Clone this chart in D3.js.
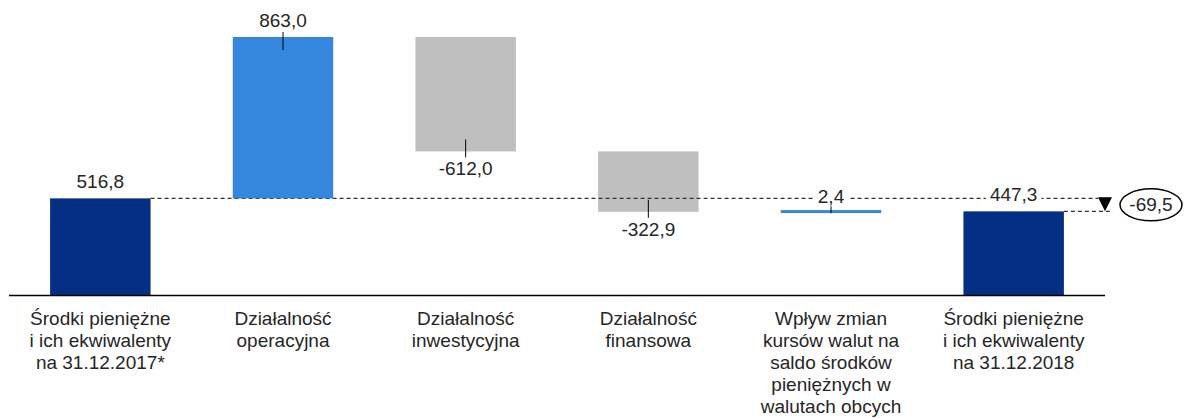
<!DOCTYPE html>
<html>
<head>
<meta charset="utf-8">
<script src="https://cdn.jsdelivr.net/npm/d3@7/dist/d3.min.js"></script>
<style>
  body { margin: 0; background: #fff; }
  text { font-family: "Liberation Sans", Arial, sans-serif; fill: #262626; }
</style>
</head>
<body>
<svg id="chart" width="1185" height="418"></svg>
<script>
// category labels, one entry per line
const categories = [
  ["Środki pieniężne", "i ich ekwiwalenty", "na 31.12.2017*"],
  ["Działalność", "operacyjna"],
  ["Działalność", "inwestycyjna"],
  ["Działalność", "finansowa"],
  ["Wpływ zmian", "kursów walut na", "saldo środków", "pieniężnych w", "walutach obcych"],
  ["Środki pieniężne", "i ich ekwiwalenty", "na 31.12.2018"]
]
const values = [516.8, 863.0, -612.0, -322.9, 2.4, 447.3]
const kinds = ["total", "delta", "delta", "delta", "delta", "total"]
const netChange = [-69.5]

const colors = {total: "#042F85", up: "#3586DD", down: "#BFBFBF"}

const svg = d3.select("#chart")
const fontSize = 19

const pl = d3.formatLocale({decimal: ",", thousands: " ", grouping: [3], currency: ["", ""], minus: "-"})
const fmt = pl.format(".1f")

// running waterfall
let run = 0
const bars = values.map((v, i) => {
  let y0, y1
  if (kinds[i] == "total") { y0 = 0; y1 = v; run = v }
  else { y0 = run; y1 = run + v; run = y1 }
  const kind = kinds[i] == "total" ? "total" : (v >= 0 ? "up" : "down")
  return {i, v, y0, y1, kind, lo: Math.min(y0, y1), hi: Math.max(y0, y1)}
})

const x = d3.scaleBand()
  .domain(d3.range(values.length))
  .range([9, 1105])
  .paddingInner(0.45)
  .paddingOuter(0.225)

const y = d3.scaleLinear()
  .domain([0, d3.max(bars, d => d.hi)])
  .range([295, 37])

const startLevel = bars[0].y1
const endLevel = bars[bars.length - 1].y1

function drawBars(sel) {
  sel.append("rect")
    .attr("x", d => x(d.i))
    .attr("width", x.bandwidth())
    .attr("y", d => {
      const h = y(d.lo) - y(d.hi)
      return h < 3 ? y(d.hi) - (3 - h) / 2 : y(d.hi)
    })
    .attr("height", d => Math.max(3, y(d.lo) - y(d.hi)))
    .attr("fill", d => colors[d.kind])
}

// totals and decreases first, dashed line over them, increases on top
svg.append("g").selectAll("g").data(bars.filter(d => d.kind != "up")).join("g").call(drawBars)

const arrowX = x.range()[1]

svg.append("line")
  .attr("x1", x(0) + x.bandwidth()).attr("x2", arrowX - 7)
  .attr("y1", y(startLevel)).attr("y2", y(startLevel))
  .attr("stroke", "#333").attr("stroke-width", 1.2).attr("stroke-dasharray", "4,3")

svg.append("line")
  .attr("x1", x(values.length - 1) + x.bandwidth()).attr("x2", arrowX + 8)
  .attr("y1", y(endLevel)).attr("y2", y(endLevel))
  .attr("stroke", "#333").attr("stroke-width", 1.2).attr("stroke-dasharray", "4,3")

svg.append("g").selectAll("g").data(bars.filter(d => d.kind == "up")).join("g").call(drawBars)

// leader lines on the change bars
svg.append("g").selectAll("line")
  .data(bars.filter(d => d.kind != "total"))
  .join("line")
  .attr("x1", d => x(d.i) + x.bandwidth() / 2)
  .attr("x2", d => x(d.i) + x.bandwidth() / 2)
  .attr("y1", d => d.kind == "up" ? y(d.hi) - 5 : y(d.lo) - 12)
  .attr("y2", d => d.kind == "up" ? Math.min(y(d.hi) + 13, y(d.lo) + 1.5) : y(d.lo) + 6)
  .attr("stroke", "#000").attr("stroke-width", 1)

// value labels with white background so the dashed line breaks
const lab = svg.append("g").selectAll("g").data(bars).join("g")
lab.append("rect").attr("fill", "#fff")
lab.append("text")
  .attr("x", d => x(d.i) + x.bandwidth() / 2)
  .attr("y", d => d.kind == "down" ? y(d.lo) + 24 : y(d.hi) - (d.hi - d.lo < 10 && d.kind == "up" ? 8 : 10))
  .attr("text-anchor", "middle")
  .attr("font-size", fontSize)
  .text(d => fmt(d.v))
lab.each(function() {
  const g = d3.select(this)
  const b = g.select("text").node().getBBox()
  g.select("rect").attr("x", b.x - 4).attr("y", b.y + 3).attr("width", b.width + 8).attr("height", b.height - 6)
})

// x axis line
svg.append("line")
  .attr("x1", x.range()[0]).attr("x2", x.range()[1])
  .attr("y1", y(0) + 0.5).attr("y2", y(0) + 0.5)
  .attr("stroke", "#000").attr("stroke-width", 1.5)

// category labels
svg.append("g").selectAll("text")
  .data(categories)
  .join("text")
  .attr("text-anchor", "middle")
  .attr("font-size", fontSize)
  .attr("transform", (d, i) => `translate(${x(i) + x.bandwidth() / 2},325)`)
  .selectAll("tspan")
  .data(d => d)
  .join("tspan")
  .attr("x", 0)
  .attr("y", (d, k) => k * 22)
  .text(d => d)

// net change marker
const midY = (y(startLevel) + y(endLevel)) / 2
svg.append("path")
  .attr("d", d3.line()([[arrowX - 7, y(startLevel) - 1], [arrowX + 7, y(startLevel) - 1], [arrowX, y(endLevel)]]) + "Z")
  .attr("fill", "#000")

svg.append("ellipse")
  .attr("cx", arrowX + 46).attr("cy", midY)
  .attr("rx", 31).attr("ry", 16)
  .attr("fill", "#fff").attr("stroke", "#000").attr("stroke-width", 1.5)

svg.append("text")
  .attr("x", arrowX + 46).attr("y", midY + 6)
  .attr("text-anchor", "middle")
  .attr("font-size", fontSize)
  .text(fmt(netChange[0]))
</script>
</body>
</html>
